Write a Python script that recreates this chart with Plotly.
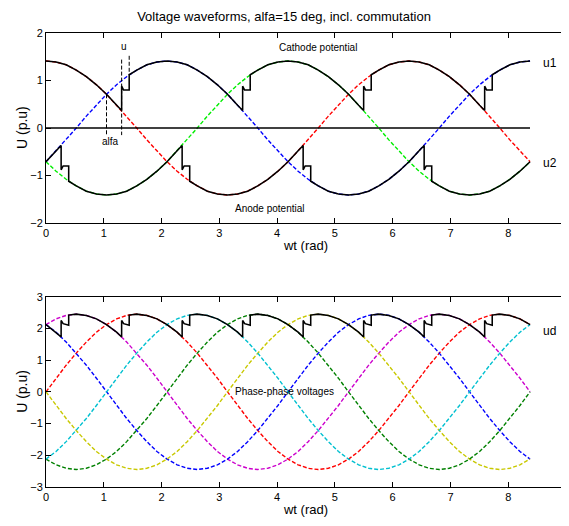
import numpy as np
import plotly.graph_objects as go

# ---------------- data (angles in electrical degrees, values in p.u.) ----------------
angle_deg = [0, 10, 20, 30, 40, 50, 60, 70, 80, 90, 100, 110, 120, 130, 140, 150, 160,
             170, 180, 190, 200, 210, 220, 230, 240, 250, 260, 270, 280, 290, 300, 310,
             320, 330, 340, 350, 360, 370, 380, 390, 400, 410, 420, 430, 440, 450, 460,
             470, 480]

# phase voltages (top panel)
phase_red = [1.41, 1.39, 1.33, 1.22, 1.08, 0.91, 0.71, 0.48, 0.25, 0.00, -0.25, -0.48, -0.71,
             -0.91, -1.08, -1.22, -1.33, -1.39, -1.41, -1.39, -1.33, -1.22, -1.08, -0.91, -0.71,
             -0.48, -0.25, 0.00, 0.25, 0.48, 0.71, 0.91, 1.08, 1.22, 1.33, 1.39, 1.41, 1.39,
             1.33, 1.22, 1.08, 0.91, 0.71, 0.48, 0.25, 0.00, -0.25, -0.48, -0.71]
phase_blue = [-0.71, -0.48, -0.25, 0.00, 0.25, 0.48, 0.71, 0.91, 1.08, 1.22, 1.33, 1.39, 1.41,
              1.39, 1.33, 1.22, 1.08, 0.91, 0.71, 0.48, 0.25, 0.00, -0.25, -0.48, -0.71, -0.91,
              -1.08, -1.22, -1.33, -1.39, -1.41, -1.39, -1.33, -1.22, -1.08, -0.91, -0.71, -0.48,
              -0.25, 0.00, 0.25, 0.48, 0.71, 0.91, 1.08, 1.22, 1.33, 1.39, 1.41]
phase_green = [-0.71, -0.91, -1.08, -1.22, -1.33, -1.39, -1.41, -1.39, -1.33, -1.22, -1.08, -0.91,
               -0.71, -0.48, -0.25, 0.00, 0.25, 0.48, 0.71, 0.91, 1.08, 1.22, 1.33, 1.39, 1.41,
               1.39, 1.33, 1.22, 1.08, 0.91, 0.71, 0.48, 0.25, 0.00, -0.25, -0.48, -0.71, -0.91,
               -1.08, -1.22, -1.33, -1.39, -1.41, -1.39, -1.33, -1.22, -1.08, -0.91, -0.71]

# cathode potential u1
cathode_deg = [0, 10, 20, 30, 40, 50, 60, 70, 75, 75, 77, 82.5, 82.5,
               90, 100, 110, 120, 130, 140, 150, 160, 170, 180, 190, 195, 195, 197, 202.5, 202.5,
               210, 220, 230, 240, 250, 260, 270, 280, 290, 300, 310, 315, 315, 317, 322.5, 322.5,
               330, 340, 350, 360, 370, 380, 390, 400, 410, 420, 430, 435, 435, 437, 442.5, 442.5,
               450, 460, 470, 480]
cathode_u = [1.41, 1.39, 1.33, 1.22, 1.08, 0.91, 0.71, 0.48, 0.37, 0.88, 0.80, 0.80, 1.12,
             1.22, 1.33, 1.39, 1.41, 1.39, 1.33, 1.22, 1.08, 0.91, 0.71, 0.48, 0.37, 0.88, 0.80, 0.80, 1.12,
             1.22, 1.33, 1.39, 1.41, 1.39, 1.33, 1.22, 1.08, 0.91, 0.71, 0.48, 0.37, 0.88, 0.80, 0.80, 1.12,
             1.22, 1.33, 1.39, 1.41, 1.39, 1.33, 1.22, 1.08, 0.91, 0.71, 0.48, 0.37, 0.88, 0.80, 0.80, 1.12,
             1.22, 1.33, 1.39, 1.41]

# anode potential u2
anode_deg = [0, 10, 15, 15, 17, 22.5, 22.5,
             30, 40, 50, 60, 70, 80, 90, 100, 110, 120, 130, 135, 135, 137, 142.5, 142.5,
             150, 160, 170, 180, 190, 200, 210, 220, 230, 240, 250, 255, 255, 257, 262.5, 262.5,
             270, 280, 290, 300, 310, 320, 330, 340, 350, 360, 370, 375, 375, 377, 382.5, 382.5,
             390, 400, 410, 420, 430, 440, 450, 460, 470, 480]
anode_u = [-0.71, -0.48, -0.37, -0.88, -0.80, -0.80, -1.12,
           -1.22, -1.33, -1.39, -1.41, -1.39, -1.33, -1.22, -1.08, -0.91, -0.71, -0.48, -0.37, -0.88, -0.80, -0.80, -1.12,
           -1.22, -1.33, -1.39, -1.41, -1.39, -1.33, -1.22, -1.08, -0.91, -0.71, -0.48, -0.37, -0.88, -0.80, -0.80, -1.12,
           -1.22, -1.33, -1.39, -1.41, -1.39, -1.33, -1.22, -1.08, -0.91, -0.71, -0.48, -0.37, -0.88, -0.80, -0.80, -1.12,
           -1.22, -1.33, -1.39, -1.41, -1.39, -1.33, -1.22, -1.08, -0.91, -0.71]

# zero reference line and alfa / u markers
zero_deg = [0, 480]
zero_u = [0, 0]
alfa_deg = [60, 60]
alfa_u = [0.71, -0.15]
u_start_deg = [75, 75]
u_start_u = [1.44, -0.15]
u_end_deg = [82.5, 82.5]
u_end_u = [1.52, 1.12]

# phase-phase voltages (bottom panel)
ll_red = [0.00, 0.43, 0.84, 1.22, 1.57, 1.88, 2.12, 2.30, 2.41, 2.45, 2.41, 2.30, 2.12, 1.88,
          1.57, 1.22, 0.84, 0.43, 0.00, -0.43, -0.84, -1.22, -1.57, -1.88, -2.12, -2.30, -2.41,
          -2.45, -2.41, -2.30, -2.12, -1.88, -1.57, -1.22, -0.84, -0.43, 0.00, 0.43, 0.84, 1.22,
          1.57, 1.88, 2.12, 2.30, 2.41, 2.45, 2.41, 2.30, 2.12]
ll_magenta = [2.12, 2.30, 2.41, 2.45, 2.41, 2.30, 2.12, 1.88, 1.57, 1.22, 0.84, 0.43, 0.00, -0.43,
              -0.84, -1.22, -1.57, -1.88, -2.12, -2.30, -2.41, -2.45, -2.41, -2.30, -2.12, -1.88,
              -1.57, -1.22, -0.84, -0.43, 0.00, 0.43, 0.84, 1.22, 1.57, 1.88, 2.12, 2.30, 2.41,
              2.45, 2.41, 2.30, 2.12, 1.88, 1.57, 1.22, 0.84, 0.43, 0.00]
ll_blue = [2.12, 1.88, 1.57, 1.22, 0.84, 0.43, 0.00, -0.43, -0.84, -1.22, -1.57, -1.88, -2.12,
           -2.30, -2.41, -2.45, -2.41, -2.30, -2.12, -1.88, -1.57, -1.22, -0.84, -0.43, 0.00, 0.43,
           0.84, 1.22, 1.57, 1.88, 2.12, 2.30, 2.41, 2.45, 2.41, 2.30, 2.12, 1.88, 1.57, 1.22,
           0.84, 0.43, 0.00, -0.43, -0.84, -1.22, -1.57, -1.88, -2.12]
ll_yellow = [0.00, -0.43, -0.84, -1.22, -1.57, -1.88, -2.12, -2.30, -2.41, -2.45, -2.41, -2.30,
             -2.12, -1.88, -1.57, -1.22, -0.84, -0.43, 0.00, 0.43, 0.84, 1.22, 1.57, 1.88, 2.12,
             2.30, 2.41, 2.45, 2.41, 2.30, 2.12, 1.88, 1.57, 1.22, 0.84, 0.43, 0.00, -0.43, -0.84,
             -1.22, -1.57, -1.88, -2.12, -2.30, -2.41, -2.45, -2.41, -2.30, -2.12]
ll_green = [-2.12, -2.30, -2.41, -2.45, -2.41, -2.30, -2.12, -1.88, -1.57, -1.22, -0.84, -0.43,
            0.00, 0.43, 0.84, 1.22, 1.57, 1.88, 2.12, 2.30, 2.41, 2.45, 2.41, 2.30, 2.12, 1.88,
            1.57, 1.22, 0.84, 0.43, 0.00, -0.43, -0.84, -1.22, -1.57, -1.88, -2.12, -2.30, -2.41,
            -2.45, -2.41, -2.30, -2.12, -1.88, -1.57, -1.22, -0.84, -0.43, 0.00]
ll_cyan = [-2.12, -1.88, -1.57, -1.22, -0.84, -0.43, 0.00, 0.43, 0.84, 1.22, 1.57, 1.88, 2.12,
           2.30, 2.41, 2.45, 2.41, 2.30, 2.12, 1.88, 1.57, 1.22, 0.84, 0.43, 0.00, -0.43, -0.84,
           -1.22, -1.57, -1.88, -2.12, -2.30, -2.41, -2.45, -2.41, -2.30, -2.12, -1.88, -1.57,
           -1.22, -0.84, -0.43, 0.00, 0.43, 0.84, 1.22, 1.57, 1.88, 2.12]

# rectified dc voltage ud
ud_deg = [0, 10, 15,
          15, 17, 22.5, 22.5, 30, 40, 50, 60, 70, 75,
          75, 77, 82.5, 82.5, 90, 100, 110, 120, 130, 135,
          135, 137, 142.5, 142.5, 150, 160, 170, 180, 190, 195,
          195, 197, 202.5, 202.5, 210, 220, 230, 240, 250, 255,
          255, 257, 262.5, 262.5, 270, 280, 290, 300, 310, 315,
          315, 317, 322.5, 322.5, 330, 340, 350, 360, 370, 375,
          375, 377, 382.5, 382.5, 390, 400, 410, 420, 430, 435,
          435, 437, 442.5, 442.5, 450, 460, 470, 480]
ud_u = [2.12, 1.88, 1.73,
        2.25, 2.15, 2.10, 2.42, 2.45, 2.41, 2.30, 2.12, 1.88, 1.73,
        2.25, 2.15, 2.10, 2.42, 2.45, 2.41, 2.30, 2.12, 1.88, 1.73,
        2.25, 2.15, 2.10, 2.42, 2.45, 2.41, 2.30, 2.12, 1.88, 1.73,
        2.25, 2.15, 2.10, 2.42, 2.45, 2.41, 2.30, 2.12, 1.88, 1.73,
        2.25, 2.15, 2.10, 2.42, 2.45, 2.41, 2.30, 2.12, 1.88, 1.73,
        2.25, 2.15, 2.10, 2.42, 2.45, 2.41, 2.30, 2.12, 1.88, 1.73,
        2.25, 2.15, 2.10, 2.42, 2.45, 2.41, 2.30, 2.12, 1.88, 1.73,
        2.25, 2.15, 2.10, 2.42, 2.45, 2.41, 2.30, 2.12]

x_ticks = [0, 1, 2, 3, 4, 5, 6, 7, 8, 9]
y1_ticks = [-2, -1, 0, 1, 2]
y2_ticks = [-3, -2, -1, 0, 1, 2, 3]

# ---------------- figure ----------------
# The page body keeps the browser's default 8px margin, so the figure is made
# 8px smaller than the window and its margins are reduced accordingly.
FONT = "Liberation Sans, Arial, sans-serif"
DASH = "4px,2px"
W, H = 561, 518
rad = np.radians

fig = go.Figure()


def dashed(x, y, color, xa, ya, width=1.4):
    fig.add_trace(go.Scatter(x=rad(x), y=y, mode="lines", xaxis=xa, yaxis=ya,
                             line=dict(color=color, width=width, dash=DASH),
                             showlegend=False, hoverinfo="skip"))


def solid(x, y, xa, ya, width=1.55, color="black", dash=None):
    fig.add_trace(go.Scatter(x=rad(x), y=y, mode="lines", xaxis=xa, yaxis=ya,
                             line=dict(color=color, width=width, dash=dash),
                             showlegend=False, hoverinfo="skip"))


# top panel
dashed(angle_deg, phase_red, "#ff0000", "x", "y")
dashed(angle_deg, phase_blue, "#0000ff", "x", "y")
dashed(angle_deg, phase_green, "#00ee00", "x", "y")
solid(zero_deg, zero_u, "x", "y", width=1.3)
solid(cathode_deg, cathode_u, "x", "y")
solid(anode_deg, anode_u, "x", "y")
solid(alfa_deg, alfa_u, "x", "y", width=1.0, dash="4px,2px")
solid(u_start_deg, u_start_u, "x", "y", width=1.0, dash="4px,2px")
solid(u_end_deg, u_end_u, "x", "y", width=1.0, dash="4px,2px")

# bottom panel
dashed(angle_deg, ll_red, "#ff0000", "x2", "y2")
dashed(angle_deg, ll_magenta, "#cc00cc", "x2", "y2")
dashed(angle_deg, ll_blue, "#0000ff", "x2", "y2")
dashed(angle_deg, ll_yellow, "#c8c800", "x2", "y2")
dashed(angle_deg, ll_green, "#008000", "x2", "y2")
dashed(angle_deg, ll_cyan, "#00c0d0", "x2", "y2")
solid(ud_deg, ud_u, "x2", "y2")

axis_common = dict(showline=True, linecolor="black", linewidth=1, mirror="ticks",
                   ticks="inside", ticklen=5, tickwidth=1, tickcolor="black",
                   showgrid=False, zeroline=False, automargin=False,
                   tickfont=dict(family=FONT, size=11, color="black"))

fig.update_layout(
    width=W, height=H,
    margin=dict(l=38, r=3, t=25, b=39, autoexpand=False),
    paper_bgcolor="white", plot_bgcolor="white",
    font=dict(family=FONT, color="black"),
    title=dict(text="Voltage waveforms, alfa=15 deg, incl. commutation",
               x=(284 - 8) / W, xref="container", xanchor="center",
               y=1 - 8 / H, yref="container", yanchor="middle",
               font=dict(family=FONT, size=13, color="black")),
    xaxis=dict(domain=[0, 1], anchor="y", range=[0, 9], tickvals=x_ticks,
               title=dict(text="wt (rad)", standoff=2, font=dict(size=13)), **axis_common),
    yaxis=dict(domain=[0.5815, 1], anchor="x", range=[-2, 2], tickvals=y1_ticks,
               **axis_common),
    xaxis2=dict(domain=[0, 1], anchor="y2", range=[0, 9], tickvals=x_ticks,
                title=dict(text="wt (rad)", standoff=2, font=dict(size=13)), **axis_common),
    yaxis2=dict(domain=[0, 0.4192], anchor="x2", range=[-3, 3], tickvals=y2_ticks,
                **axis_common),
)

# y-axis titles placed as rotated annotations beside the tick labels
for yref in ("y domain", "y2 domain"):
    fig.add_annotation(text="U (p.u)", xref="paper", x=0, xshift=-24, xanchor="center",
                       yref=yref, y=0.5, yanchor="middle", textangle=-90, showarrow=False,
                       font=dict(family=FONT, size=14, color="black"))

notes = [
    ("Cathode potential", 4.7, 1.70, "x", "y", "center", 10),
    ("Anode potential", 3.88, -1.70, "x", "y", "center", 10),
    ("alfa", 1.11, -0.29, "x", "y", "center", 10),
    ("u", 1.35, 1.71, "x", "y", "center", 10),
    ("u1", 8.56, 1.36, "x", "y", "left", 12),
    ("u2", 8.56, -0.73, "x", "y", "left", 12),
    ("ud", 8.56, 1.93, "x2", "y2", "left", 12),
    ("Phase-phase voltages", 4.13, 0.0, "x2", "y2", "center", 10),
]
for text, xv, yv, xr, yr, anchor, size in notes:
    fig.add_annotation(text=text, x=xv, y=yv, xref=xr, yref=yr, showarrow=False,
                       xanchor=anchor, yanchor="middle",
                       font=dict(family=FONT, size=size, color="black"))

fig.write_html("out.html")
